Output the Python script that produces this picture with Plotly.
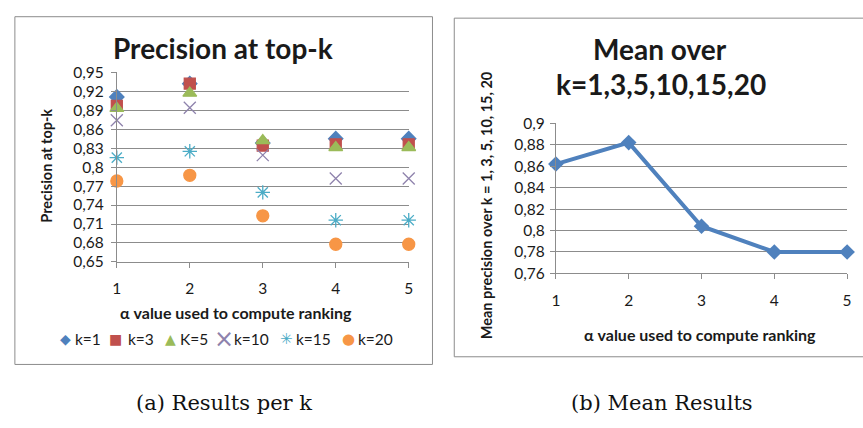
import plotly.graph_objects as go

# alpha values used to compute the ranking
alpha = [1, 2, 3, 4, 5]

# precision at top-k for each alpha
prec_k1 = [0.911, 0.932, 0.838, 0.845, 0.845]
prec_k3 = [0.897, 0.932, 0.834, 0.836, 0.836]
prec_k5 = [0.893, 0.917, 0.842, 0.831, 0.831]
prec_k10 = [0.874, 0.894, 0.819, 0.782, 0.782]
prec_k15 = [0.815, 0.825, 0.760, 0.716, 0.716]
prec_k20 = [0.778, 0.787, 0.723, 0.678, 0.678]

# mean precision over k = 1, 3, 5, 10, 15, 20
mean_prec = [0.862, 0.882, 0.804, 0.780, 0.780]

series_names = ["k=1", "k=3", "K=5", "k=10", "k=15", "k=20"]

left_ticks = [0.65, 0.68, 0.71, 0.74, 0.77, 0.80, 0.83, 0.86, 0.89, 0.92, 0.95]
left_ticktext = ["0,65", "0,68", "0,71", "0,74", "0,77", "0,8", "0,83", "0,86", "0,89", "0,92", "0,95"]
right_ticks = [0.76, 0.78, 0.80, 0.82, 0.84, 0.86, 0.88, 0.90]
right_ticktext = ["0,76", "0,78", "0,8", "0,82", "0,84", "0,86", "0,88", "0,9"]

W, H = 863, 428
FONT = "Lato"
GRID = "#8c8c8c"
TXT = "#1a1a1a"


def px_x(v):
    return v / W


def px_y(v):
    return 1 - v / H


fig = go.Figure()

# marker styles per series: plotly symbol, legend glyph, colour, size, glyph size
styles = [
    ("diamond", "◆", "#4F81BD", 11, 14),
    ("square", "■", "#C0504D", 11, 14),
    ("triangle-up", "▲", "#9BBB59", 12, 14),
    ("x-thin-open", "×", "#8E82AC", 12, 24),
    ("asterisk-open", "✳", "#4BACC6", 12, 15),
    ("circle", "●", "#F79646", 12, 15),
]
series_vals = [prec_k1, prec_k3, prec_k5, prec_k10, prec_k15, prec_k20]

for name, vals, (sym, _, col, size, _) in zip(series_names, series_vals, styles):
    fig.add_trace(go.Scatter(
        x=alpha, y=vals, name=name, mode="markers", showlegend=False,
        marker=dict(symbol=sym, color=col, size=size,
                    line=dict(color=col, width=1.3)),
        cliponaxis=False, xaxis="x", yaxis="y",
    ))

fig.add_trace(go.Scatter(
    x=alpha, y=mean_prec, mode="lines+markers", showlegend=False,
    line=dict(color="#4F81BD", width=4),
    marker=dict(symbol="diamond", color="#4F81BD", size=12),
    cliponaxis=False, xaxis="x2", yaxis="y2",
))

axis_common = dict(
    showline=True, linecolor=GRID, linewidth=1,
    ticks="outside", ticklen=5, tickcolor=GRID, tickwidth=1,
    tickfont=dict(family=FONT, size=15.5, color=TXT),
    zeroline=False, fixedrange=True,
)

fig.update_layout(
    width=W, height=H,
    margin=dict(l=0, r=0, t=0, b=0),
    paper_bgcolor="white", plot_bgcolor="white",
    showlegend=False,
    xaxis=dict(
        domain=[px_x(114), px_x(409)], range=[1, 5],
        tickvals=alpha, showgrid=False, ticklabelstandoff=7,
        anchor="y", **axis_common,
    ),
    yaxis=dict(
        domain=[px_y(263), px_y(65)], range=[0.65, 0.95],
        tickvals=left_ticks, ticktext=left_ticktext,
        showgrid=True, gridcolor=GRID, gridwidth=1,
        ticklabelstandoff=4, anchor="x", **axis_common,
    ),
    xaxis2=dict(
        domain=[px_x(557.7), px_x(852)], range=[1, 5],
        tickvals=alpha, showgrid=False, ticklabelstandoff=8,
        anchor="y2", **axis_common,
    ),
    yaxis2=dict(
        domain=[px_y(275), px_y(118.3)], range=[0.76, 0.90],
        tickvals=right_ticks, ticktext=right_ticktext,
        showgrid=True, gridcolor=GRID, gridwidth=1,
        ticklabelstandoff=2, anchor="x2", **axis_common,
    ),
)

# panel frames
fig.add_shape(type="rect", xref="paper", yref="paper",
              x0=px_x(11), x1=px_x(433), y0=px_y(370), y1=px_y(7),
              line=dict(color="#8c8c8c", width=1), layer="below")
fig.add_shape(type="rect", xref="paper", yref="paper",
              x0=px_x(455), x1=px_x(880), y0=px_y(362), y1=px_y(8.5),
              line=dict(color="#8c8c8c", width=1), layer="below")


def label(text, x, y, size, bold=True, angle=0, family=FONT, color=TXT,
          xanchor="center"):
    fig.add_annotation(
        text=text, x=px_x(x), y=px_y(y), xref="paper", yref="paper",
        xanchor=xanchor, yanchor="middle", showarrow=False, textangle=angle,
        borderpad=0,
        font=dict(family=family, size=size, color=color,
                  weight="bold" if bold else "normal"),
    )


label("Precision at top-k", 221, 40, 28)
label("Mean over", 663, 41, 28)
label("k=1,3,5,10,15,20", 664, 77, 28)

label("α value used to compute ranking", 234, 316, 16)
label("α value used to compute ranking", 703, 339, 16)
label("Precision at top-k", 43, 163, 14.5, angle=-90)
label("Mean precision over k = 1, 3, 5, 10, 15, 20", 488, 204, 14.5, angle=-90)

# legend row under the left panel
glyph_x = [62, 113, 168, 222, 285, 348]
text_x = [71, 124, 177, 231, 294, 357]
for name, (_, glyph, col, _, gsize), gx, tx in zip(series_names, styles, glyph_x, text_x):
    label(glyph, gx, 343, gsize, bold=False, family="DejaVu Sans", color=col)
    label(name, tx, 343, 15.5, bold=False, xanchor="left")

label("(a) Results per k", 222, 410, 21, bold=False, family="DejaVu Serif", color="#111")
label("(b) Mean Results", 665, 410, 21, bold=False, family="DejaVu Serif", color="#111")

fig.write_html("out.html")
